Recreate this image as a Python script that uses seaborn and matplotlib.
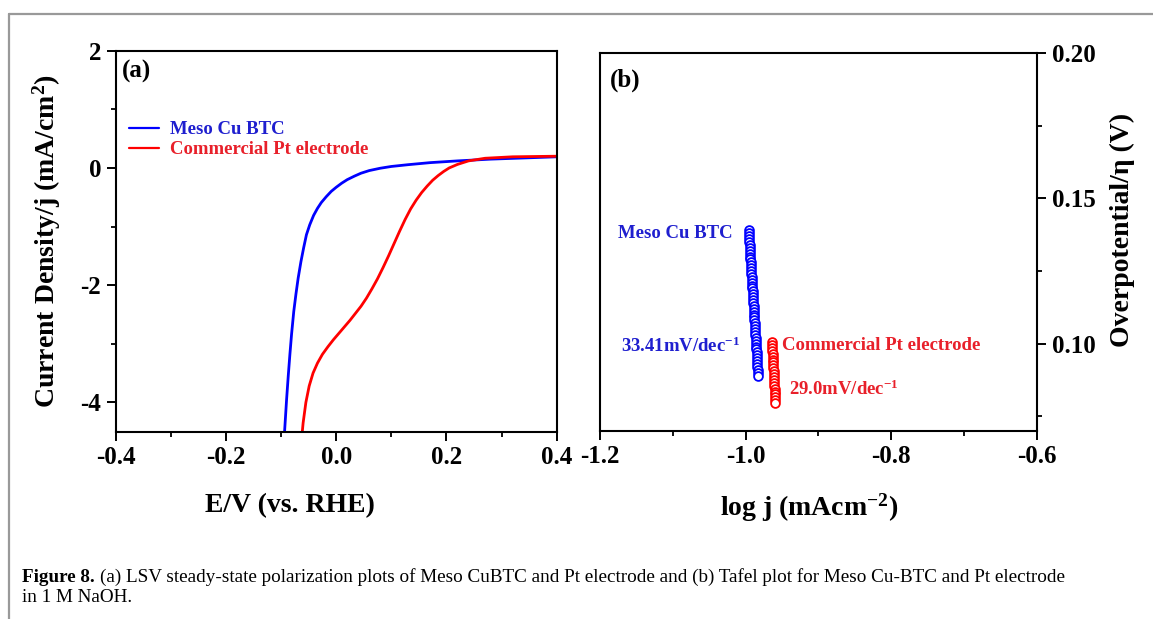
import numpy as np
import pandas as pd
import matplotlib
matplotlib.use("Agg")
import matplotlib.pyplot as plt
from matplotlib.lines import Line2D
from matplotlib.ticker import MultipleLocator, FormatStrFormatter
import seaborn as sns

# ===============================
# DATA
# ===============================

# (a) LSV curves: potential E (V vs RHE) and current density j (mA/cm2)
E_cubtc = [-0.096, -0.094, -0.092, -0.090, -0.087, -0.084, -0.081, -0.077, -0.073,
           -0.069, -0.064, -0.059, -0.054, -0.048, -0.041, -0.034, -0.027, -0.018,
           -0.009, 0.000, 0.010, 0.020, 0.033, 0.045, 0.060, 0.080, 0.100, 0.130,
           0.170, 0.220, 0.280, 0.340, 0.400]
j_cubtc = [-4.85, -4.55, -4.25, -3.95, -3.55, -3.18, -2.84, -2.45, -2.15,
           -1.88, -1.60, -1.36, -1.14, -0.97, -0.81, -0.69, -0.59, -0.49,
           -0.40, -0.33, -0.26, -0.20, -0.14, -0.09, -0.045, -0.005, 0.025, 0.055,
           0.09, 0.12, 0.15, 0.17, 0.19]

E_pt = [-0.064, -0.060, -0.055, -0.049, -0.042, -0.034, -0.025, -0.015, -0.005,
        0.005, 0.015, 0.025, 0.035, 0.045, 0.055, 0.065, 0.075, 0.085, 0.095,
        0.105, 0.115, 0.125, 0.135, 0.145, 0.155, 0.165, 0.175, 0.185, 0.195,
        0.205, 0.220, 0.240, 0.270, 0.320, 0.400]
j_pt = [-4.75, -4.35, -4.00, -3.72, -3.50, -3.33, -3.18, -3.05, -2.93,
        -2.82, -2.71, -2.60, -2.48, -2.36, -2.22, -2.06, -1.89, -1.70, -1.50,
        -1.29, -1.08, -0.88, -0.70, -0.55, -0.42, -0.31, -0.21, -0.13, -0.06,
        0.00, 0.06, 0.12, 0.165, 0.19, 0.20]

# (b) Tafel points: log j and overpotential (V)
logj_cubtc = [-0.9960, -0.9957, -0.9955, -0.9952, -0.9950, -0.9947, -0.9944, -0.9942,
              -0.9939, -0.9937, -0.9934, -0.9931, -0.9929, -0.9926, -0.9924, -0.9921,
              -0.9918, -0.9916, -0.9913, -0.9911, -0.9908, -0.9905, -0.9903, -0.9900,
              -0.9898, -0.9895, -0.9892, -0.9890, -0.9887, -0.9885, -0.9882, -0.9879,
              -0.9877, -0.9874, -0.9872, -0.9869, -0.9866, -0.9864, -0.9861, -0.9859,
              -0.9856, -0.9853, -0.9851, -0.9848, -0.9846, -0.9843, -0.9840, -0.9838,
              -0.9835, -0.9833, -0.9830]
eta_cubtc = [0.139, 0.138, 0.137, 0.136, 0.135, 0.134, 0.133, 0.132, 0.131, 0.130,
             0.129, 0.128, 0.127, 0.126, 0.125, 0.124, 0.123, 0.122, 0.121, 0.120,
             0.119, 0.118, 0.117, 0.116, 0.115, 0.114, 0.113, 0.112, 0.111, 0.110,
             0.109, 0.108, 0.107, 0.106, 0.105, 0.104, 0.103, 0.102, 0.101, 0.100,
             0.099, 0.098, 0.097, 0.096, 0.095, 0.094, 0.093, 0.092, 0.091, 0.090,
             0.089]

logj_pt = [-0.9640, -0.9638, -0.9635, -0.9633, -0.9631, -0.9628, -0.9626, -0.9624,
           -0.9621, -0.9619, -0.9617, -0.9614, -0.9612, -0.9610, -0.9607, -0.9605,
           -0.9603, -0.9600, -0.9598, -0.9596, -0.9593, -0.9591]
eta_pt = [0.1005, 0.0995, 0.0985, 0.0975, 0.0965, 0.0955, 0.0945, 0.0935,
          0.0925, 0.0915, 0.0905, 0.0895, 0.0885, 0.0875, 0.0865, 0.0855,
          0.0845, 0.0835, 0.0825, 0.0815, 0.0805, 0.0795]

labels = ["Meso Cu BTC", "Commercial Pt electrode"]
slopes = ["33.41mV/dec$^{-1}$", "29.0mV/dec$^{-1}$"]

line_blue, line_red = "#0000FF", "#FF0000"
txt_blue, txt_red = "#1F1FCF", "#E8202A"

# ===============================
# STYLE
# ===============================
sns.set_style("ticks")
plt.rcParams["font.family"] = ["Liberation Serif", "DejaVu Serif"]
plt.rcParams["font.weight"] = "bold"
plt.rcParams["mathtext.fontset"] = "custom"
plt.rcParams["mathtext.rm"] = "Liberation Serif:bold"
plt.rcParams["mathtext.it"] = "Liberation Serif:bold:italic"
plt.rcParams["mathtext.bf"] = "Liberation Serif:bold"
plt.rcParams["mathtext.default"] = "rm"
plt.rcParams["axes.unicode_minus"] = False
for key in ["text.color", "axes.labelcolor", "xtick.color", "ytick.color"]:
    plt.rcParams[key] = "black"

W, H = 1153, 619
fig = plt.figure(figsize=(W / 100, H / 100), dpi=100)
fig.patch.set_facecolor("white")

# gray page frame
fig.add_artist(Line2D([9 / W, 1], [1 - 14 / H, 1 - 14 / H], color="#999999", lw=1.6))
fig.add_artist(Line2D([9 / W, 9 / W], [0, 1 - 14 / H], color="#999999", lw=1.6))

ax1 = fig.add_axes([115.7 / W, 1 - 431.7 / H, 441 / W, 381 / H])
ax2 = fig.add_axes([600 / W, 1 - 430.7 / H, 437 / W, 377.4 / H])


def style_axes(ax):
    for sp in ax.spines.values():
        sp.set_visible(True)
        sp.set_linewidth(1.5)
        sp.set_color("black")
    ax.tick_params(which="major", direction="out", length=6.5, width=1.4,
                   labelsize=18, pad=4, colors="black")
    ax.tick_params(which="minor", direction="out", length=3.6, width=1.3)
    for lab in ax.get_xticklabels() + ax.get_yticklabels():
        lab.set_fontweight("bold")


# ===============================
# (a) LSV
# ===============================
sns.lineplot(x=E_cubtc, y=j_cubtc, ax=ax1, color=line_blue, lw=2.0,
             label=labels[0], errorbar=None)
sns.lineplot(x=E_pt, y=j_pt, ax=ax1, color=line_red, lw=2.0,
             label=labels[1], errorbar=None)
ax1.set_xlim(-0.4, 0.4)
ax1.set_ylim(-4.5, 2.0)
ax1.xaxis.set_major_locator(MultipleLocator(0.2))
ax1.xaxis.set_minor_locator(MultipleLocator(0.1))
ax1.yaxis.set_major_locator(MultipleLocator(2))
ax1.yaxis.set_minor_locator(MultipleLocator(1))
ax1.xaxis.set_major_formatter(FormatStrFormatter("%.1f"))
ax1.yaxis.set_major_formatter(FormatStrFormatter("%d"))
style_axes(ax1)
ax1.set_xlabel("E/V (vs. RHE)", fontsize=20, fontweight="bold")
ax1.set_ylabel("Current Density/j (mA/cm$^2$)", fontsize=20, fontweight="bold")
ax1.xaxis.set_label_coords(0.395, -0.161)
ax1.yaxis.set_label_coords(-0.12, 0.5)
ax1.text(0.014, 0.945, "(a)", transform=ax1.transAxes, fontsize=18,
         fontweight="bold", va="center", ha="left")

leg = ax1.legend(loc="center left", bbox_to_anchor=(0.0295, 0.766), frameon=False,
                 fontsize=13.5, handlelength=1.6, handletextpad=0.6,
                 labelspacing=0.15, borderpad=0, borderaxespad=0)
for t, c in zip(leg.get_texts(), [txt_blue, txt_red]):
    t.set_color(c)
    t.set_fontweight("bold")
for h in leg.get_lines():
    h.set_linewidth(1.6)

# ===============================
# (b) Tafel
# ===============================
sns.scatterplot(x=logj_cubtc, y=eta_cubtc, ax=ax2, marker="o", s=40,
                color="white", edgecolor=line_blue, linewidth=1.3, legend=False)
sns.scatterplot(x=logj_pt, y=eta_pt, ax=ax2, marker="o", s=40,
                color="white", edgecolor=line_red, linewidth=1.3, legend=False)
ax2.set_xlim(-1.2, -0.6)
ax2.set_ylim(0.07, 0.20)
ax2.xaxis.set_major_locator(MultipleLocator(0.2))
ax2.xaxis.set_minor_locator(MultipleLocator(0.1))
ax2.yaxis.set_major_locator(MultipleLocator(0.05))
ax2.yaxis.set_minor_locator(MultipleLocator(0.025))
ax2.xaxis.set_major_formatter(FormatStrFormatter("%.1f"))
ax2.yaxis.set_major_formatter(FormatStrFormatter("%.2f"))
ax2.yaxis.tick_right()
ax2.yaxis.set_label_position("right")
style_axes(ax2)
ax2.set_xlabel("log j (mAcm$^{-2}$)", fontsize=20, fontweight="bold")
ax2.set_ylabel("Overpotential/η (V)", fontsize=20, fontweight="bold")
ax2.xaxis.set_label_coords(0.478, -0.162)
ax2.yaxis.set_label_coords(1.167, 0.532)
ax2.text(0.022, 0.928, "(b)", transform=ax2.transAxes, fontsize=18,
         fontweight="bold", va="center", ha="left")

ax2.text(-1.018, 0.138, labels[0], color=txt_blue, fontsize=13.5,
         fontweight="bold", ha="right", va="center")
ax2.text(-1.0075, 0.0992, slopes[0], color=txt_blue, fontsize=13.5,
         fontweight="bold", ha="right", va="center")
ax2.text(-0.950, 0.0992, labels[1], color=txt_red, fontsize=13.5,
         fontweight="bold", ha="left", va="center")
ax2.text(-0.940, 0.0843, slopes[1], color=txt_red, fontsize=13.5,
         fontweight="bold", ha="left", va="center")

# ===============================
# CAPTION
# ===============================
cap_size = 13.8
t0 = fig.text(22 / W, 1 - 577 / H, "Figure 8.", fontsize=cap_size,
              fontweight="bold", va="center", ha="left")
fig.canvas.draw()
bb = t0.get_window_extent()
fig.text((bb.x1 + 5) / W, 1 - 577 / H,
         "(a) LSV steady-state polarization plots of Meso CuBTC and Pt electrode and "
         "(b) Tafel plot for Meso Cu-BTC and Pt electrode",
         fontsize=cap_size, fontweight="normal", va="center", ha="left")
fig.text(22 / W, 1 - 598 / H, "in 1 M NaOH.", fontsize=cap_size,
         fontweight="normal", va="center", ha="left")

fig.savefig("out.png", dpi=100)
